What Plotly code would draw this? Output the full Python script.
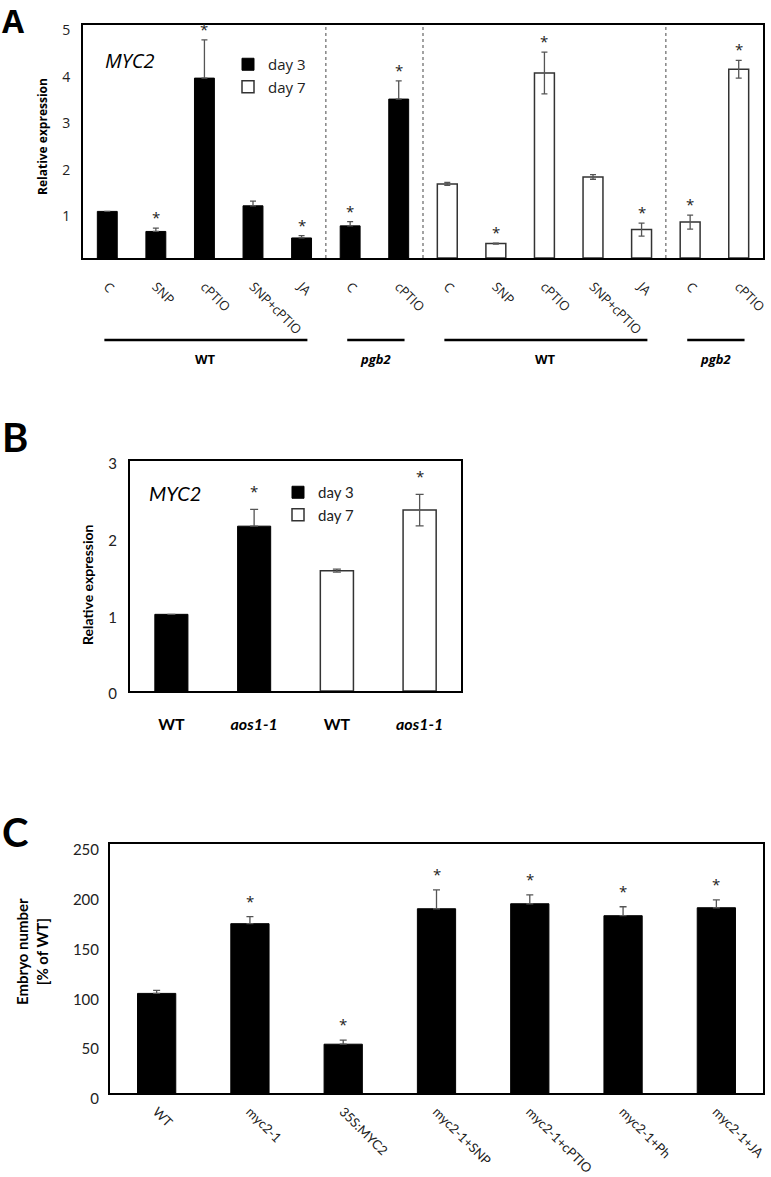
import plotly.graph_objects as go

W, H = 771, 1177


def px(x):
    return x / W


def py(y):
    return 1 - y / H


# ---------------- Panel A data ----------------
a_labels = ["C", "SNP", "cPTIO", "SNP+cPTIO", "JA", "C", "cPTIO",
            "C", "SNP", "cPTIO", "SNP+cPTIO", "JA", "C", "cPTIO"]
a_day3 = [1.00, 0.57, 3.86, 1.12, 0.43, 0.69, 3.41]
a_day3_err = [0.0, 0.07, 0.82, 0.10, 0.05, 0.09, 0.39]
a_day3_sig = [False, True, True, False, True, True, True]
a_day7 = [1.59, 0.31, 3.97, 1.74, 0.61, 0.77, 4.05]
a_day7_err = [0.03, 0.01, 0.45, 0.05, 0.14, 0.15, 0.19]
a_day7_sig = [False, True, True, False, True, True, True]
a_group_names = ["WT", "pgb2", "WT", "pgb2"]
a_group_sizes = [5, 2, 5, 2]
a_yticks = [1, 2, 3, 4, 5]

# ---------------- Panel B data ----------------
b_labels = ["WT", "aos1-1", "WT", "aos1-1"]
b_day3 = [1.00, 2.15]
b_day3_err = [0.0, 0.22]
b_day3_sig = [False, True]
b_day7 = [1.57, 2.36]
b_day7_err = [0.02, 0.205]
b_day7_sig = [False, True]
b_yticks = [0, 1, 2, 3]

# ---------------- Panel C data ----------------
c_labels = ["WT", "myc2-1", "35S:MYC2", "myc2-1+SNP", "myc2-1+cPTIO",
            "myc2-1+Ph", "myc2-1+JA"]
c_vals = [100, 170, 49, 185, 190, 178, 186]
c_err = [3, 7, 4, 19, 9, 9, 8]
c_sig = [False, True, True, True, True, True, True]
c_yticks = [0, 50, 100, 150, 200, 250]

FA = "Open Sans"
FB = "Lato"
ERRC = "#555555"

fig = go.Figure()
annotations = []
shapes = []


def note(**kw):
    kw.setdefault("showarrow", False)
    kw.setdefault("xanchor", "center")
    kw.setdefault("yanchor", "middle")
    annotations.append(kw)


# ---------- Panel A traces ----------
n3 = len(a_day3)
x3 = list(range(n3))
x7 = list(range(n3, n3 + len(a_day7)))
fig.add_trace(go.Bar(
    x=x3, y=a_day3, name="day 3", width=0.41,
    marker=dict(color="black", line=dict(color="black", width=1)),
    error_y=dict(type="data", symmetric=False, array=a_day3_err,
                 arrayminus=[0] * n3, color=ERRC, thickness=1.3, width=3),
    xaxis="x", yaxis="y", legend="legend"))
fig.add_trace(go.Bar(
    x=x7, y=a_day7, name="day 7", width=0.41,
    marker=dict(color="white", line=dict(color="#333333", width=1.5)),
    error_y=dict(type="data", array=a_day7_err, color=ERRC,
                 thickness=1.3, width=3),
    xaxis="x", yaxis="y", legend="legend"))

for xs, vals, errs, sigs in [(x3, a_day3, a_day3_err, a_day3_sig),
                             (x7, a_day7, a_day7_err, a_day7_sig)]:
    for xi, v, e, s in zip(xs, vals, errs, sigs):
        if s:
            note(x=xi, y=v + e, xref="x", yref="y", text="*", yshift=11,
                 font=dict(family=FA, size=15, color="#222"))

# group separators, lines and labels
start = 0
bounds = []
for gname, gsize in zip(a_group_names, a_group_sizes):
    s0, s1 = start, start + gsize - 1
    bounds.append((s0, s1))
    shapes.append(dict(type="line", xref="x", yref="paper",
                       x0=s0 - 0.06, x1=s1 + 0.12, y0=py(340), y1=py(340),
                       line=dict(color="black", width=2.5)))
    label = "<b>WT</b>" if gname == "WT" else "<b><i>%s</i></b>" % gname
    note(x=(s0 + s1) / 2 + 0.03, y=py(359), xref="x", yref="paper",
         text=label, font=dict(family=FA, size=13, color="black"))
    start += gsize
for (s0, s1) in bounds[:-1]:
    shapes.append(dict(type="line", xref="x", yref="paper",
                       x0=s1 + 0.5, x1=s1 + 0.5, y0=py(258), y1=py(25),
                       line=dict(color="#666666", width=1.2, dash="dot")))

note(x=px(103), y=py(60), xref="paper", yref="paper", xanchor="left",
     text="<i>MYC2</i>", font=dict(family=FA, size=20, color="black"))
note(x=px(43), y=py(137), xref="paper", yref="paper", textangle=-90,
     text="<b>Relative expression</b>",
     font=dict(family=FA, size=12, color="black"))
note(x=px(0), y=py(0), xref="paper", yref="paper", xanchor="left",
     yanchor="top", yshift=3, text="<b>A</b>",
     font=dict(family=FA, size=32, color="black"))

# ---------- Panel B traces ----------
nb3 = len(b_day3)
bx3 = list(range(nb3))
bx7 = list(range(nb3, nb3 + len(b_day7)))
fig.add_trace(go.Bar(
    x=bx3, y=b_day3, name="day 3", width=0.40,
    marker=dict(color="black", line=dict(color="black", width=1)),
    error_y=dict(type="data", symmetric=False, array=b_day3_err,
                 arrayminus=[0] * nb3, color=ERRC, thickness=1.3, width=4),
    xaxis="x2", yaxis="y2", legend="legend2"))
fig.add_trace(go.Bar(
    x=bx7, y=b_day7, name="day 7", width=0.40,
    marker=dict(color="white", line=dict(color="#333333", width=1.5)),
    error_y=dict(type="data", array=b_day7_err, color=ERRC,
                 thickness=1.3, width=4),
    xaxis="x2", yaxis="y2", legend="legend2"))
for xs, vals, errs, sigs in [(bx3, b_day3, b_day3_err, b_day3_sig),
                             (bx7, b_day7, b_day7_err, b_day7_sig)]:
    for xi, v, e, s in zip(xs, vals, errs, sigs):
        if s:
            note(x=xi, y=v + e, xref="x2", yref="y2", text="*", yshift=18,
                 font=dict(family=FA, size=15, color="#222"))
b_ticktext = ["<b>WT</b>" if t == "WT" else "<b><i>%s</i></b>" % t
              for t in b_labels]
note(x=px(147), y=py(493), xref="paper", yref="paper", xanchor="left",
     text="<i>MYC2</i>", font=dict(family=FB, size=20, color="black"))
note(x=px(87), y=py(585), xref="paper", yref="paper", textangle=-90,
     text="<b>Relative expression</b>",
     font=dict(family=FB, size=14, color="black"))
note(x=px(0), y=py(437), xref="paper", yref="paper", xanchor="left",
     text="<b>B</b>", font=dict(family=FB, size=40, color="black"))

# ---------- Panel C traces ----------
fig.add_trace(go.Bar(
    x=c_labels, y=c_vals, width=0.41, showlegend=False,
    marker=dict(color="black", line=dict(color="black", width=1)),
    error_y=dict(type="data", symmetric=False, array=c_err,
                 arrayminus=[0] * len(c_err), color=ERRC, thickness=1.3,
                 width=3.5),
    xaxis="x3", yaxis="y3"))
for lab, v, e, s in zip(c_labels, c_vals, c_err, c_sig):
    if s:
        note(x=lab, y=v + e, xref="x3", yref="y3", text="*", yshift=16,
             font=dict(family=FA, size=15, color="#222"))
note(x=px(32), y=py(952), xref="paper", yref="paper", textangle=-90,
     text="<b>Embryo number<br>[% of WT]</b>",
     font=dict(family=FB, size=15, color="black"))
note(x=px(0), y=py(832), xref="paper", yref="paper", xanchor="left",
     text="<b>C</b>", font=dict(family=FB, size=40, color="black"))

frame = dict(showline=True, mirror=True, linecolor="black", linewidth=2,
             showgrid=False, zeroline=False, ticks="", automargin=False)

fig.update_layout(
    width=W, height=H, autosize=False,
    margin=dict(l=0, r=0, t=0, b=0, pad=0, autoexpand=False),
    paper_bgcolor="white", plot_bgcolor="white",
    barmode="overlay",
    showlegend=True,
    xaxis=dict(domain=[px(83), px(763)], anchor="y", range=[-0.5, 13.5],
               tickmode="array", tickvals=list(range(len(a_labels))),
               ticktext=a_labels, tickangle=45, ticklabelstandoff=14,
               tickfont=dict(family=FA, size=13, color="#222"), **frame),
    yaxis=dict(domain=[py(258), py(25)], anchor="x", range=[0, 5],
               tickmode="array", tickvals=a_yticks, ticklabelstandoff=8,
               ticklabelshift=5,
               tickfont=dict(family=FA, size=14, color="#222"), **frame),
    xaxis2=dict(domain=[px(130), px(461)], anchor="y2", range=[-0.5, 3.5],
                tickmode="array", tickvals=list(range(len(b_labels))),
                ticktext=b_ticktext, tickangle=0, ticklabelstandoff=18,
                tickfont=dict(family=FB, size=16, color="black"), **frame),
    yaxis2=dict(domain=[py(691), py(461)], anchor="x2", range=[0, 3],
                tickmode="array", tickvals=b_yticks, ticklabelstandoff=8,
                ticklabelshift=3,
                tickfont=dict(family=FB, size=15, color="#222"), **frame),
    xaxis3=dict(domain=[px(110), px(763)], anchor="y3", range=[-0.5, 6.5],
                type="category", tickangle=45, ticklabelstandoff=4,
                tickfont=dict(family=FB, size=13, color="#222"), **frame),
    yaxis3=dict(domain=[py(1093), py(844)], anchor="x3", range=[0, 250],
                tickmode="array", tickvals=c_yticks, ticklabelstandoff=6,
                ticklabelshift=6,
                tickfont=dict(family=FB, size=15, color="#222"), **frame),
    legend=dict(x=px(228), y=py(48), xanchor="left", yanchor="top",
                bgcolor="rgba(0,0,0,0)", font=dict(family=FA, size=15,
                                                  color="#222"),
                tracegroupgap=0),
    legend2=dict(x=px(278), y=py(476), xanchor="left", yanchor="top",
                 bgcolor="rgba(0,0,0,0)", font=dict(family=FB, size=15,
                                                   color="#222"),
                 tracegroupgap=0),
    annotations=annotations,
    shapes=shapes,
)

fig.write_html("out.html",
               config={"displayModeBar": False},
               post_script="document.body.style.margin='0px';"
                           "document.body.style.overflow='hidden';")
